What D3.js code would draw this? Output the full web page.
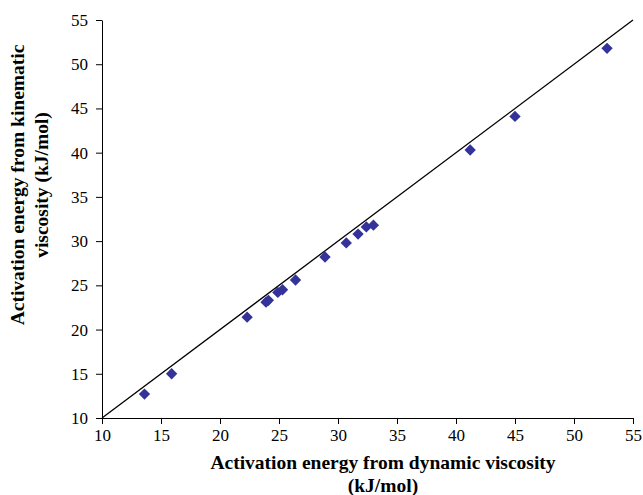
<!DOCTYPE html>
<html>
<head>
<meta charset="utf-8">
<script src="https://cdn.jsdelivr.net/npm/d3@7"></script>
<style>
  html, body { margin: 0; padding: 0; background: #fff; }
  svg { display: block; }
</style>
</head>
<body>
<svg id="chart" width="643" height="495"></svg>
<script>
const xValues = [13.6, 15.9, 22.3, 23.9, 24.1, 24.9, 25.3, 26.4, 28.9, 30.7, 31.7, 32.4, 33.0, 41.2, 45.0, 52.8];
const yValues = [12.7, 15.0, 21.4, 23.1, 23.3, 24.2, 24.5, 25.6, 28.2, 29.8, 30.8, 31.6, 31.8, 40.3, 44.1, 51.8];
const xTicks = [10, 15, 20, 25, 30, 35, 40, 45, 50, 55];
const yTicks = [10, 15, 20, 25, 30, 35, 40, 45, 50, 55];
const refLine = [[10, 10], [55, 55]];
const xTitle = ["Activation energy from dynamic viscosity", "(kJ/mol)"];
const yTitle = ["Activation energy from kinematic", "viscosity (kJ/mol)"];

const svg = d3.select("#chart");
const mLeft = 102, mRight = 633, mTop = 20, mBottom = 418;
const x = d3.scaleLinear().domain([10, 55]).range([mLeft, mRight]);
const y = d3.scaleLinear().domain([10, 55]).range([mBottom, mTop]);
const font = "'Liberation Serif', 'Times New Roman', serif";

const xAxis = svg.append("g")
  .attr("transform", `translate(0,${mBottom})`)
  .call(d3.axisBottom(x).tickValues(xTicks).tickSize(6).tickSizeOuter(0).tickPadding(5));
const yAxis = svg.append("g")
  .attr("transform", `translate(${mLeft},0)`)
  .call(d3.axisLeft(y).tickValues(yTicks).tickSize(6).tickSizeOuter(0).tickPadding(8));
[xAxis, yAxis].forEach(g => {
  g.selectAll("path, line").attr("stroke", "#000").attr("stroke-width", 1);
  g.selectAll("text").attr("font-family", font).attr("font-size", 17).attr("fill", "#000");
});

svg.append("path")
  .datum(refLine)
  .attr("d", d3.line().x(d => x(d[0])).y(d => y(d[1])))
  .attr("stroke", "#000").attr("stroke-width", 1.3).attr("fill", "none");

const diamond = d3.symbol().type(d3.symbolSquare).size(64);
svg.append("g").selectAll("path")
  .data(xValues.map((v, i) => [v, yValues[i]]))
  .join("path")
  .attr("d", diamond)
  .attr("transform", d => `translate(${x(d[0])},${y(d[1])}) rotate(45)`)
  .attr("fill", "#333399");

svg.append("text")
  .attr("x", 383).attr("y", 469)
  .attr("text-anchor", "middle")
  .attr("font-family", font).attr("font-size", 19.5).attr("font-weight", "bold")
  .selectAll("tspan").data(xTitle).join("tspan")
  .attr("x", 383)
  .attr("dy", (d, i) => i === 0 ? 0 : 23)
  .text(d => d);

svg.append("text")
  .attr("transform", "translate(24,185) rotate(-90)")
  .attr("text-anchor", "middle")
  .attr("font-family", font).attr("font-size", 19.5).attr("font-weight", "bold")
  .selectAll("tspan").data(yTitle).join("tspan")
  .attr("x", 0)
  .attr("dy", (d, i) => i === 0 ? 0 : 24)
  .text(d => d);
</script>
</body>
</html>
